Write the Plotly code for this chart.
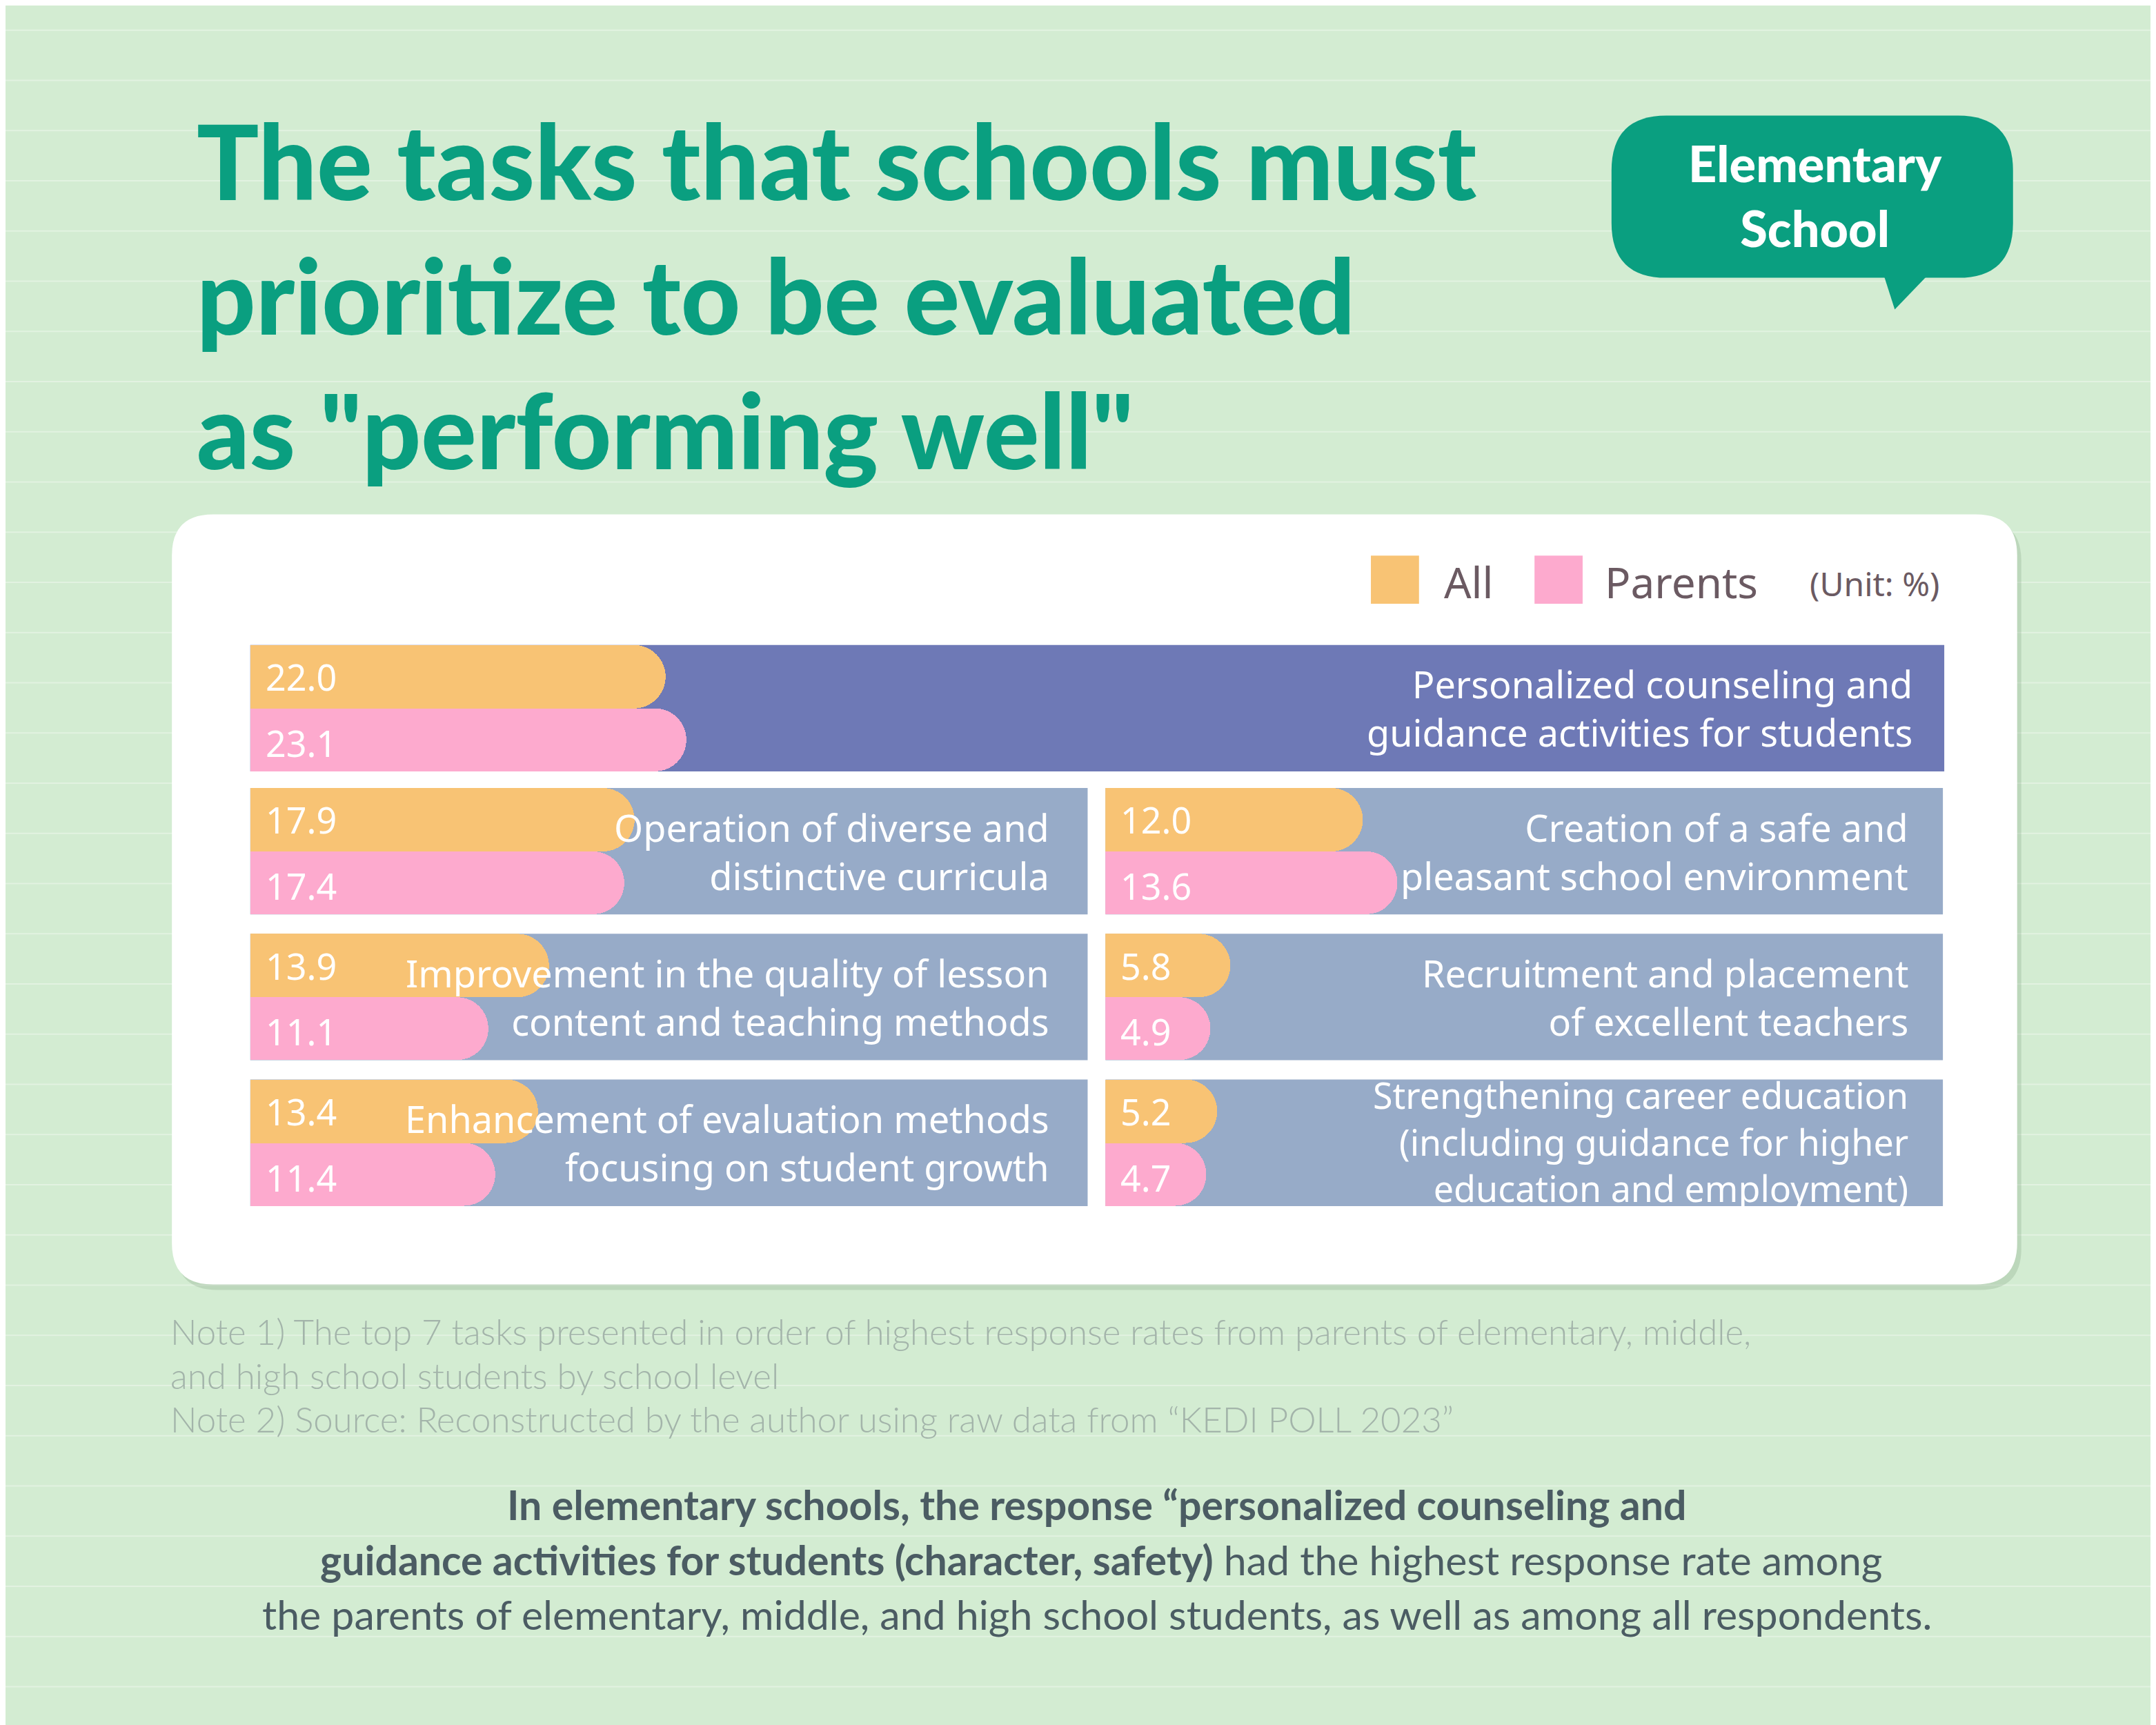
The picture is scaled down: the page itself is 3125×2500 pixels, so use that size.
import plotly.graph_objects as go

W, H = 3125, 2500
S = W / 1568.0
HD = H / S

# ---- data ----
tasks = [
    "Personalized counseling and<br>guidance activities for students",
    "Operation of diverse and<br>distinctive curricula",
    "Creation of a safe and<br>pleasant school environment",
    "Improvement in the quality of lesson<br>content and teaching methods",
    "Recruitment and placement<br>of excellent teachers",
    "Enhancement of evaluation methods<br>focusing on student growth",
    "Strengthening career education<br>(including guidance for higher<br>education and employment)",
]
all_vals = [22.0, 17.9, 12.0, 13.9, 5.8, 13.4, 5.2]
parent_vals = [23.1, 17.4, 13.6, 11.1, 4.9, 11.4, 4.7]

ORANGE = "#f8c374"
PINK = "#fdaace"
GREEN = "#0a9f80"

def px(x): return x / 1568.0
def py(y): return 1 - y / HD

# panel boxes in reference (display) pixels: x0, x1, y0, y1
boxes = [
    (178, 1410, 465, 557),
    (178, 787, 569, 661), (800, 1409, 569, 661),
    (178, 787, 675, 767), (800, 1409, 675, 767),
    (178, 787, 781, 873), (800, 1409, 781, 873),
]
ranges = [89.7, 39, 39, 39, 39, 39, 39]
panel_bg = ["#6e79b6"] + ["#97abc8"] * 6

fig = go.Figure()
shapes = []
annos = []

# background lines
y = 18
while y < HD:
    shapes.append(dict(type="line", xref="paper", yref="paper", x0=0, x1=1, y0=py(y), y1=py(y),
                       line=dict(color="rgba(255,255,255,0.35)", width=2), layer="below"))
    y += 36.5

def rrect(x0, x1, y0, y1, r):
    X0, X1, Y0, Y1 = px(x0), px(x1), py(y0), py(y1)
    rx, ry = px(r), r / HD
    return (f"M{X0+rx},{Y0} L{X1-rx},{Y0} Q{X1},{Y0} {X1},{Y0-ry} L{X1},{Y1+ry} Q{X1},{Y1} {X1-rx},{Y1} "
            f"L{X0+rx},{Y1} Q{X0},{Y1} {X0},{Y1+ry} L{X0},{Y0-ry} Q{X0},{Y0} {X0+rx},{Y0} Z")

# card
shapes.append(dict(type="path", xref="paper", yref="paper", path=rrect(124, 1466, 374, 934, 30),
                   fillcolor="rgba(120,150,120,0.25)", line=dict(width=0), layer="below"))
shapes.append(dict(type="path", xref="paper", yref="paper", path=rrect(121, 1463, 370, 930, 30),
                   fillcolor="white", line=dict(width=0), layer="below"))
# bubble
shapes.append(dict(type="path", xref="paper", yref="paper", path=rrect(1168, 1460, 80, 198, 40),
                   fillcolor=GREEN, line=dict(width=0), layer="below"))
shapes.append(dict(type="path", xref="paper", yref="paper",
                   path=f"M{px(1366)},{py(196)} L{px(1374)},{py(221)} L{px(1398)},{py(196)} Z",
                   fillcolor=GREEN, line=dict(width=0), layer="below"))

layout_axes = {}
for i, (x0, x1, y0, y1) in enumerate(boxes):
    n = "" if i == 0 else str(i + 1)
    xa, ya = "x" + n, "y" + n
    layout_axes["xaxis" + n] = dict(domain=[px(x0), px(x1)], range=[0, ranges[i]], visible=False,
                                    anchor=ya, fixedrange=True)
    layout_axes["yaxis" + n] = dict(domain=[py(y1), py(y0)], categoryorder="array",
                                    categoryarray=["Parents", "All"], visible=False,
                                    anchor=xa, fixedrange=True)
    shapes.append(dict(type="rect", xref=xa + " domain", yref=ya + " domain", x0=0, x1=1, y0=0, y1=1,
                       fillcolor=panel_bg[i], line=dict(width=0), layer="below"))
    vals = [all_vals[i], parent_vals[i]]
    cols = [ORANGE, PINK]
    fig.add_trace(go.Bar(x=vals, y=["All", "Parents"], orientation="h", xaxis=xa, yaxis=ya,
                         marker=dict(color=cols, cornerradius=46, line=dict(width=0)),
                         showlegend=False, hoverinfo="skip"))
    fig.add_trace(go.Bar(x=[v * 0.5 for v in vals], y=["All", "Parents"], orientation="h",
                         xaxis=xa, yaxis=ya, marker=dict(color=cols, line=dict(width=0)),
                         showlegend=False, hoverinfo="skip"))
    hh = (y1 - y0) / 4
    annos.append(dict(text=f"{all_vals[i]:.1f}", x=px(x0 + 10), y=py(y0 + hh), xanchor="left",
                      yanchor="middle", font=dict(size=52, color="white", family="Noto Sans")))
    annos.append(dict(text=f"{parent_vals[i]:.1f}", x=px(x0 + 10), y=py(y0 + 3 * hh + 2), xanchor="left",
                      yanchor="middle", font=dict(size=52, color="white", family="Noto Sans")))
    rx = 1388 if i == 0 else (760 if x0 < 500 else 1385)
    annos.append(dict(text=tasks[i], x=px(rx), y=py((y0 + y1) / 2 + (-1 if i == 6 else 0)),
                      xanchor="right", yanchor="middle", align="right",
                      font=dict(size=54 if i != 6 else 52, color="white", family="Noto Sans")))

# title
annos.append(dict(text="The tasks that schools must<br>prioritize to be evaluated<br>as \"performing well\"",
                  x=px(138), y=py(66), xanchor="left", yanchor="top", align="left",
                  font=dict(size=150, color=GREEN, family="Lato", weight=900)))
annos.append(dict(text="Elementary<br>School", x=px(1316), y=py(138), xanchor="center", yanchor="middle",
                  font=dict(size=72, color="white", family="Lato", weight=900)))

# legend
for x0, c in [(993, ORANGE), (1112, PINK)]:
    shapes.append(dict(type="rect", xref="paper", yref="paper", x0=px(x0), x1=px(x0 + 35),
                       y0=py(435), y1=py(400), fillcolor=c, line=dict(width=0), layer="below"))
annos.append(dict(text="All", x=px(1045), y=py(419), xanchor="left", yanchor="middle",
                  font=dict(size=62, color="#6b5a62", family="Noto Sans")))
annos.append(dict(text="Parents", x=px(1162), y=py(419), xanchor="left", yanchor="middle",
                  font=dict(size=62, color="#6b5a62", family="Noto Sans")))
annos.append(dict(text="(Unit: %)", x=px(1408), y=py(420), xanchor="right", yanchor="middle",
                  font=dict(size=48, color="#6b5a62", family="Noto Sans")))

# notes
notes = ["Note 1) The top 7 tasks presented in order of highest response rates from parents of elementary, middle,",
         "and high school students by school level",
         "Note 2) Source: Reconstructed by the author using raw data from \u201cKEDI POLL 2023\u201d"]
for k, t in enumerate(notes):
    annos.append(dict(text=t, x=px(119), y=py(964 + 32 * k), xanchor="left", yanchor="middle",
                      font=dict(size=51, color="#a3b4aa", family="Lato", weight=300)))

summary = ["<b>In elementary schools, the response \u201cpersonalized counseling and</b>",
           "<b>guidance activities for students (character, safety)</b> had the highest response rate among",
           "the parents of elementary, middle, and high school students, as well as among all respondents."]
cx = [794, 797, 794]
for k, t in enumerate(summary):
    annos.append(dict(text=t, x=px(cx[k]), y=py(1090 + 40 * k), xanchor="center", yanchor="middle",
                      font=dict(size=59, color="#4b5c63", family="Lato")))

for a in annos:
    a.update(xref="paper", yref="paper", showarrow=False)

fig.update_layout(width=W, height=H, margin=dict(l=0, r=0, t=0, b=0),
                  paper_bgcolor="#d3ecd2", plot_bgcolor="rgba(0,0,0,0)",
                  barmode="overlay", bargap=0, shapes=shapes, annotations=annos, **layout_axes)
fig.write_html("out.html")
